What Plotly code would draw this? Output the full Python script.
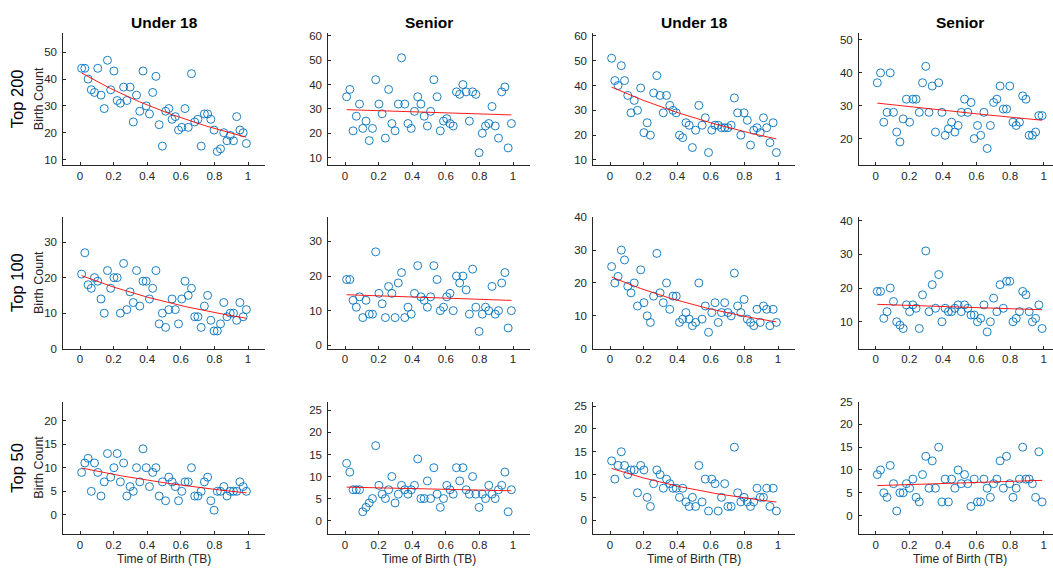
import numpy as np
import plotly.graph_objects as go

# ---- data -------------------------------------------------------------
time_of_birth = [0.0096, 0.0288, 0.0481, 0.0673, 0.0865, 0.1058, 0.1250, 0.1442, 0.1635, 0.1827,
                 0.2019, 0.2212, 0.2404, 0.2596, 0.2788, 0.2981, 0.3173, 0.3365, 0.3558, 0.3750,
                 0.3942, 0.4135, 0.4327, 0.4519, 0.4712, 0.4904, 0.5096, 0.5288, 0.5481, 0.5673,
                 0.5865, 0.6058, 0.6250, 0.6442, 0.6635, 0.6827, 0.7019, 0.7212, 0.7404, 0.7596,
                 0.7788, 0.7981, 0.8173, 0.8365, 0.8558, 0.8750, 0.8942, 0.9135, 0.9327, 0.9519,
                 0.9712, 0.9904]

col_titles = ["Under 18", "Senior", "Under 18", "Senior"]
row_titles = ["Top 200", "Top 100", "Top 50"]

top200_u18_a = [44, 44, 40, 36, 35, 44, 34, 29, 47, 36, 43, 32, 31, 37, 32, 37, 24, 34, 28, 43,
                30, 27, 35, 41, 23, 15, 28, 29, 25, 26, 21, 22, 29, 22, 42, 24, 25, 15, 27, 27,
                25, 21, 13, 14, 20, 17, 19, 17, 26, 21, 20, 16]
top200_sen_a = [35, 38, 21, 27, 32, 22, 25, 17, 22, 42, 32, 28, 18, 38, 24, 21, 32, 51, 32, 24,
                22, 29, 35, 32, 27, 23, 29, 42, 35, 21, 25, 26, 24, 23, 37, 36, 40, 37, 25, 37,
                36, 12, 20, 23, 24, 31, 23, 18, 37, 39, 14, 24]
top200_u18_b = [51, 42, 40, 48, 42, 36, 29, 34, 30, 39, 21, 25, 20, 37, 44, 36, 29, 36, 32, 30,
                29, 20, 19, 25, 24, 15, 22, 32, 24, 27, 13, 22, 24, 24, 23, 23, 23, 24, 35, 29,
                20, 29, 26, 16, 22, 23, 21, 27, 23, 17, 25, 13]
top200_sen_b = [37, 40, 25, 28, 40, 28, 22, 19, 26, 32, 25, 32, 32, 28, 37, 42, 28, 36, 22, 37,
                28, 21, 23, 25, 22, 24, 28, 32, 28, 31, 20, 24, 21, 28, 17, 24, 31, 32, 36, 29,
                29, 36, 25, 24, 25, 33, 32, 21, 21, 22, 27, 27]

top100_u18_a = [21, 27, 18, 17, 20, 19, 14, 10, 22, 17, 20, 20, 10, 24, 11, 16, 13, 22, 12, 19,
                19, 14, 17, 22, 7, 10, 6, 11, 14, 11, 7, 14, 19, 15, 17, 9, 9, 6, 12, 15,
                8, 5, 5, 7, 13, 9, 10, 10, 8, 13, 9, 11]
top100_sen_a = [19, 19, 13, 11, 14, 8, 13, 9, 9, 27, 15, 12, 8, 17, 15, 8, 18, 21, 8, 11,
                9, 15, 23, 14, 13, 11, 14, 23, 19, 10, 11, 14, 15, 10, 20, 18, 20, 16, 9, 22,
                11, 4, 9, 11, 10, 17, 9, 10, 18, 21, 5, 10]
top100_u18_b = [25, 20, 22, 30, 27, 19, 17, 20, 13, 24, 14, 10, 8, 16, 29, 17, 14, 20, 12, 16,
                16, 8, 9, 11, 9, 7, 8, 20, 9, 13, 5, 11, 14, 8, 11, 14, 11, 10, 23, 13,
                11, 15, 9, 8, 7, 12, 8, 13, 12, 7, 12, 8]
top100_sen_b = [19, 19, 11, 13, 20, 16, 10, 9, 8, 15, 13, 15, 14, 8, 18, 31, 13, 21, 14, 24,
                10, 14, 13, 13, 14, 15, 13, 15, 14, 12, 12, 10, 11, 15, 7, 10, 17, 13, 21, 14,
                22, 22, 10, 11, 13, 19, 18, 13, 10, 11, 15, 8]

top50_u18_a = [9, 11, 12, 5, 11, 9, 4, 7, 13, 8, 10, 13, 7, 11, 4, 6, 5, 10, 7, 14,
               10, 6, 9, 10, 4, 7, 3, 8, 7, 6, 3, 5, 7, 7, 10, 4, 4, 5, 7, 8,
               3, 1, 5, 5, 6, 4, 5, 5, 5, 7, 6, 5]
top50_sen_a = [13, 11, 7, 7, 7, 2, 3, 4, 5, 17, 8, 6, 5, 7, 10, 4, 6, 8, 7, 6,
               7, 8, 14, 5, 5, 9, 5, 12, 6, 3, 5, 8, 7, 6, 12, 9, 12, 7, 6, 10,
               6, 3, 6, 5, 8, 6, 5, 7, 8, 11, 2, 7]
top50_u18_b = [13, 9, 12, 15, 12, 10, 11, 11, 6, 12, 11, 5, 3, 8, 11, 10, 7, 9, 8, 7,
               7, 5, 7, 4, 3, 5, 3, 12, 4, 9, 2, 9, 8, 2, 5, 8, 3, 3, 16, 6,
               4, 5, 4, 3, 4, 7, 5, 5, 7, 3, 7, 2]
top50_sen_b = [9, 10, 5, 4, 11, 7, 1, 5, 5, 7, 6, 8, 4, 3, 9, 13, 6, 12, 6, 15,
               3, 8, 3, 8, 6, 10, 7, 9, 7, 2, 8, 3, 3, 8, 6, 4, 7, 8, 12, 6,
               13, 7, 4, 6, 8, 15, 8, 8, 7, 4, 14, 3]

grid = [
    [top200_u18_a, top200_sen_a, top200_u18_b, top200_sen_b],
    [top100_u18_a, top100_sen_a, top100_u18_b, top100_sen_b],
    [top50_u18_a, top50_sen_a, top50_u18_b, top50_sen_b],
]
row_dtick = [10, 10, 5]
x_ticks = [0, 0.2, 0.4, 0.6, 0.8, 1]
x_tick_text = ["0", "0.2", "0.4", "0.6", "0.8", "1"]


def exp_fit(x, y):
    """Least-squares fit of y = a*exp(b*x) (Gauss-Newton)."""
    b, la = np.polyfit(x, np.log(y), 1)
    a = np.exp(la)
    for _ in range(60):
        e = np.exp(b * x)
        r = y - a * e
        J = np.column_stack([e, a * x * e])
        d = np.linalg.lstsq(J, r, rcond=None)[0]
        a += d[0]
        b += d[1]
    return a, b


# ---- layout geometry (pixels) -----------------------------------------
W, H = 1053, 578
FONT = "Liberation Sans, Arial, Helvetica, sans-serif"
AX = "#262626"
BLUE = "#0072BD"

col_x0 = [80.0, 345.0, 610.0, 875.7]      # pixel of x = 0
px_per_unit = 168.0
row_top = [28.0, 215.7, 404.0]
row_bot = [162.3, 350.0, 539.0]

fig = go.Figure()
layout = dict(
    width=W, height=H, margin=dict(l=0, r=0, t=0, b=0),
    paper_bgcolor="white", plot_bgcolor="white",
    showlegend=False, font=dict(family=FONT, color=AX),
)
annotations = []

xs = np.array(time_of_birth)
for r in range(3):
    for c in range(4):
        n = r * 4 + c + 1
        ys = np.array(grid[r][c], dtype=float)
        xa = "x" if n == 1 else f"x{n}"
        ya = "y" if n == 1 else f"y{n}"

        fig.add_trace(go.Scatter(
            x=xs, y=ys, mode="markers", xaxis=xa, yaxis=ya,
            marker=dict(symbol="circle-open", size=8, color=BLUE,
                        line=dict(width=0.9, color=BLUE)),
            hoverinfo="x+y"))
        a, b = exp_fit(xs, ys)
        fig.add_trace(go.Scatter(
            x=xs, y=a * np.exp(b * xs), mode="lines", xaxis=xa, yaxis=ya,
            line=dict(color="#FF0000", width=0.9), hoverinfo="skip"))

        left = col_x0[c] - 0.1 * px_per_unit
        right = min(col_x0[c] + 1.1 * px_per_unit, W)
        xmax = (right - col_x0[c]) / px_per_unit
        ylo, yhi = ys.min() - 5, ys.max() + 10

        common = dict(showline=True, linecolor=AX, linewidth=0.8, mirror=False,
                      showgrid=False, zeroline=False, ticks="inside", ticklen=3,
                      tickwidth=0.8, tickcolor=AX,
                      tickfont=dict(family=FONT, size=11.5, color=AX))
        layout["xaxis" if n == 1 else f"xaxis{n}"] = dict(
            common, domain=[left / W, right / W], range=[-0.1, xmax],
            anchor=ya, tickvals=x_ticks, ticktext=x_tick_text, fixedrange=True)
        layout["yaxis" if n == 1 else f"yaxis{n}"] = dict(
            common, domain=[1 - row_bot[r] / H, 1 - row_top[r] / H],
            range=[ylo, yhi], anchor=xa, tick0=0, dtick=row_dtick[r],
            ticklabelstandoff=3, fixedrange=True)

        if r == 0:
            annotations.append(dict(
                text=f"<b>{col_titles[c]}</b>", xref="paper", yref="paper",
                x=(col_x0[c] + 0.5 * px_per_unit) / W, y=1 - 17 / H,
                xanchor="center", yanchor="middle", showarrow=False,
                font=dict(family=FONT, size=15.5, color="black")))
        if r == 2:
            annotations.append(dict(
                text="Time of Birth (TB)", xref="paper", yref="paper",
                x=(col_x0[c] + 0.5 * px_per_unit) / W, y=1 - 565 / H,
                xanchor="center", yanchor="middle", showarrow=False,
                font=dict(family=FONT, size=12, color=AX)))

    mid = (row_top[r] + row_bot[r]) / 2
    annotations.append(dict(
        text=row_titles[r], xref="paper", yref="paper", x=17 / W, y=1 - mid / H,
        xanchor="center", yanchor="middle", showarrow=False, textangle=-90,
        font=dict(family=FONT, size=16.5, color="black")))
    annotations.append(dict(
        text="Birth Count", xref="paper", yref="paper", x=39 / W, y=1 - mid / H,
        xanchor="center", yanchor="middle", showarrow=False, textangle=-90,
        font=dict(family=FONT, size=12.5, color=AX)))

layout["annotations"] = annotations
fig.update_layout(**layout)
fig.write_html(
    "out.html",
    config={"displayModeBar": False},
    post_script="document.body.style.margin='0';document.body.style.overflow='hidden';",
)
